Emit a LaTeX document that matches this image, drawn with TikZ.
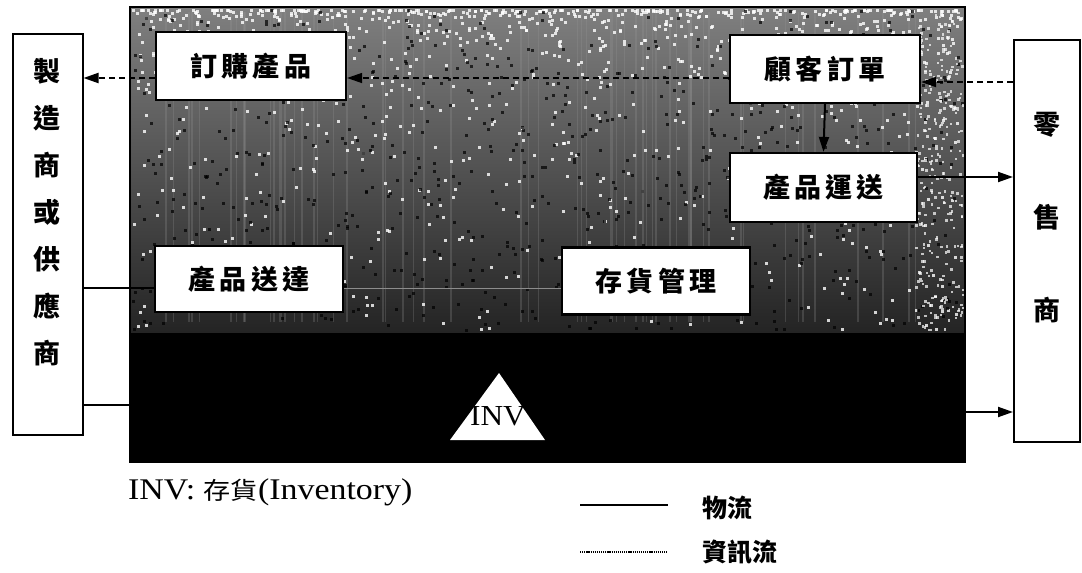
\documentclass[tikz,border=0pt]{standalone}
\usepackage{fontspec}
\setmainfont{Liberation Serif}
\newfontfamily\cjk[LetterSpace=15]{Noto Sans CJK TC}
\newfontfamily\cjkn{Noto Sans CJK TC}
\usetikzlibrary{arrows.meta,calc}
\tikzset{
  boxx/.style={draw, line width=2.2pt, fill=white, inner sep=0pt,
    font=\cjk\bfseries\fontsize{27}{27}\selectfont},
  side/.style={draw, line width=2pt, fill=white, inner sep=0pt},
  sidetext/.style={align=center, inner sep=0pt, font=\cjkn\bfseries\fontsize{27}{47}\selectfont},
  tip/.style={-{Triangle[length=15pt,width=10pt]}},
  phys/.style={line width=2pt, tip},
  physline/.style={line width=2pt},
  info/.style={line width=2pt, dash pattern=on 6pt off 4pt, tip},
  legtext/.style={inner sep=0pt, anchor=west, font=\cjkn\bfseries\fontsize{25}{25}\selectfont},
}
\begin{document}
\begin{tikzpicture}[x=1pt,y=-1pt]
\useasboundingbox (0,0) rectangle (1082,573);
\fill[white] (0,0) rectangle (1082,573);

% main textured area
\shade[top color=black!50, middle color=black!80, bottom color=black!86] (130,7) rectangle (965,333);
\pgfmathsetseed{11}
\foreach \i in {1,...,60}{
  \pgfmathsetmacro\xx{132+rnd*826}
  \fill[black!40,opacity=0.25] (\xx,12) rectangle ++(1.5,310);
}
\foreach \i in {1,...,1100}{
  \pgfmathsetmacro\xx{132+rnd*830}
  \pgfmathsetmacro\yy{9+(rnd^3)*320}
  \fill[white,opacity=0.8] (\xx,\yy) rectangle ++(3,3);
}
\foreach \i in {1,...,700}{
  \pgfmathsetmacro\xx{132+rnd*830}
  \pgfmathsetmacro\yy{9+rnd*320}
  \fill[black,opacity=0.7] (\xx,\yy) rectangle ++(3,3);
}
\foreach \i in {1,...,300}{
  \pgfmathsetmacro\xx{915+rnd*48}
  \pgfmathsetmacro\yy{9+rnd*320}
  \fill[white,opacity=0.7] (\xx,\yy) rectangle ++(2.5,2.5);
}
\fill[black] (130,333) rectangle (965,462);
\node[draw, line width=2pt, inner sep=0pt, minimum width=835pt, minimum height=455pt] (main) at (547.5,234.5) {};

% INV triangle
\fill[white] (499,373) -- (450,440) -- (545,440) -- cycle;
\node[inner sep=0pt, font=\fontsize{29}{29}\selectfont] (invlabel) at (498,416) {\scalebox{1.08}[1]{INV}};

% side boxes
\node[side, minimum width=70pt, minimum height=401pt] (mfr) at (47.5,234.5) {};
\node[sidetext] (mfrtext) at (47.5,212) {製\\造\\商\\或\\供\\應\\商};
\node[side, minimum width=66pt, minimum height=402pt] (ret) at (1047,241) {};
\node[sidetext, font=\cjkn\bfseries\fontsize{27}{93}\selectfont] (rettext) at (1047,218) {零\\售\\商};

% process boxes
\node[boxx, minimum width=190pt, minimum height=68pt] (order) at (251,66) {訂購產品};
\node[boxx, minimum width=190pt, minimum height=68pt] (cust) at (825,69) {顧客訂單};
\node[boxx, minimum width=187pt, minimum height=69pt] (ship) at (823.5,187.5) {產品運送};
\node[boxx, minimum width=188pt, minimum height=66pt] (recv) at (249,279) {產品送達};
\node[boxx, minimum width=188pt, minimum height=67pt] (invm) at (656,281) {存貨管理};

% helper heights
\coordinate (y78) at (0,78);
\coordinate (y82) at (0,82);
\coordinate (y177) at (0,177);
\coordinate (y288) at (0,288);
\coordinate (y405) at (0,405);
\coordinate (y412) at (0,412);

% connectors
\draw[info] (order.west |- y78) -- (mfr.east |- y78);
\draw[info, line width=1.5pt] (cust.west |- y78) -- (order.east |- y78);
\draw[info] (ret.west |- y82) -- (cust.east |- y82);
\draw[phys] (cust.south) -- (ship.north);
\draw[phys] (ship.east |- y177) -- (ret.west |- y177);
\draw[physline] (mfr.east |- y288) -- (recv.west |- y288);
\draw[line width=1pt, black!45] (recv.east |- y288) -- (invm.west |- y288);
\draw[physline] (mfr.east |- y405) -- (main.west |- y405);
\draw[phys] (main.east |- y412) -- (ret.west |- y412);

% legend
\node[inner sep=0pt, anchor=west, font=\fontsize{30}{30}\selectfont] (invleg) at (128,492)
  {\scalebox{1.13}[1]{INV:~{\cjkn\fontsize{24}{24}\selectfont 存貨}(Inventory)}};
\coordinate (l1a) at (580,505);
\coordinate (l1b) at (668,505);
\coordinate (l2a) at (580,552);
\coordinate (l2b) at (668,552);
\draw[line width=2pt] (l1a) -- (l1b);
\draw[line width=1.3pt, dash pattern=on 1.2pt off 0.9pt] (l2a) -- (l2b);
\node[legtext] (leg1) at (702,508) {物流};
\node[legtext] (leg2) at (702,552) {資訊流};
\end{tikzpicture}
\end{document}
